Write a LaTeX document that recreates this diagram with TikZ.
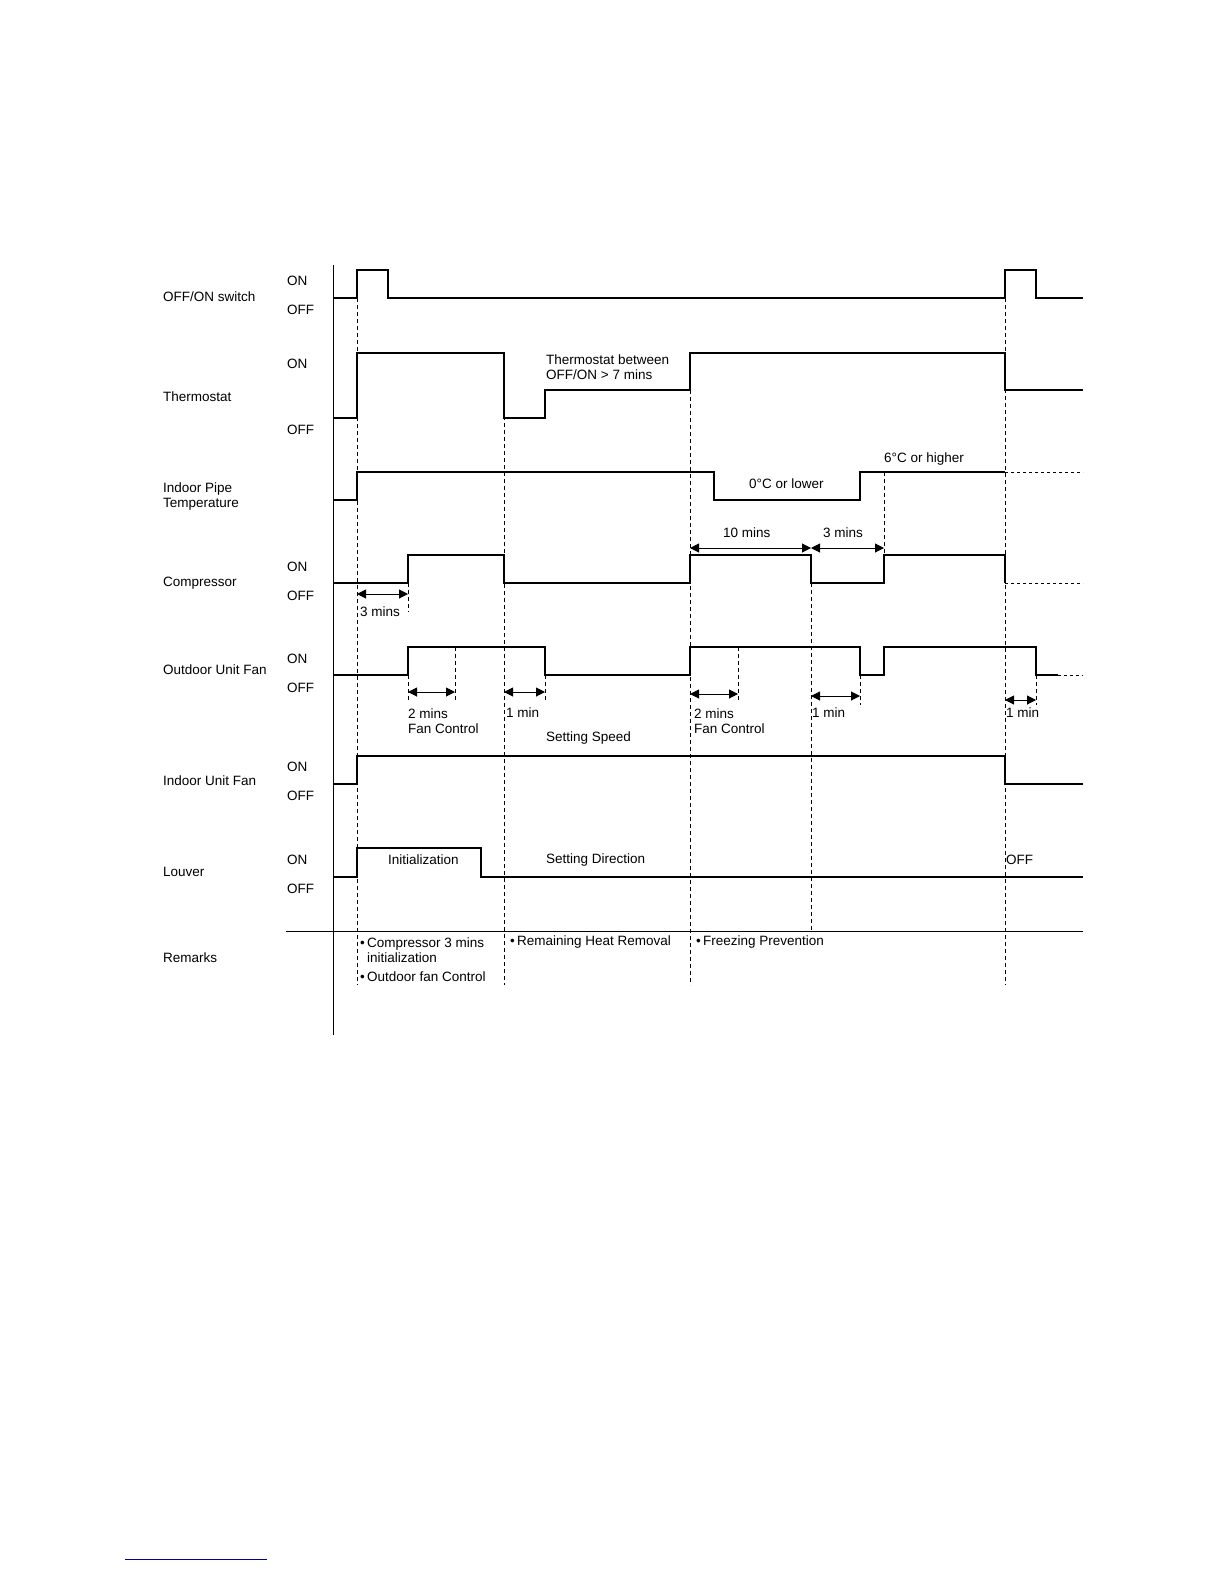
\documentclass[tikz,border=0pt]{standalone}
\usepackage{fontspec}
\setmainfont{Liberation Sans}
\usetikzlibrary{arrows.meta}
\begin{document}
\begin{tikzpicture}[x=1pt,y=-1pt,font=\fontsize{13.5}{15}\selectfont,
  sig/.style={line width=2.2pt,line join=miter},
  guide/.style={dashed,line width=0.6pt,dash pattern=on 4pt off 3pt},
  cont/.style={line width=0.8pt,dash pattern=on 3pt off 3pt},
  dur/.style={line width=1pt,{Triangle[length=9pt,width=9pt]}-{Triangle[length=9pt,width=9pt]}},
  lbl/.style={anchor=west,inner sep=0pt},
  txt/.style={anchor=base west,inner sep=0pt}]
\useasboundingbox (0,0) rectangle (1224,1584);
\fill[white] (0,0) rectangle (1224,1584);
% axis and remarks line
\draw[line width=0.8pt] (333,265) -- (333,1035);
\draw[line width=0.8pt] (286,931) -- (1083,931);
% guides
\draw[guide] (357,270) -- (357,985);
\draw[guide] (504,353) -- (504,985);
\draw[guide] (690,390) -- (690,985);
\draw[guide] (811,583) -- (811,931);
\draw[guide] (1005,298) -- (1005,985);
\draw[guide] (884,472) -- (884,555);
\draw[guide] (408,583) -- (408,612);
\draw[guide] (408,675) -- (408,700);
\draw[guide] (455,647) -- (455,700);
\draw[guide] (545,675) -- (545,700);
\draw[guide] (738,647) -- (738,700);
\draw[guide] (860,675) -- (860,705);
\draw[guide] (1036,675) -- (1036,705);
% signals
\draw[sig] (333,298) -- (357,298) -- (357,270) -- (388,270) -- (388,298) -- (1005,298) -- (1005,270) -- (1036,270) -- (1036,298) -- (1083,298);
\draw[sig] (333,418) -- (357,418) -- (357,353) -- (504,353) -- (504,418) -- (545,418) -- (545,390) -- (690,390) -- (690,353) -- (1005,353) -- (1005,390) -- (1083,390);
\draw[sig] (333,500) -- (357,500) -- (357,472) -- (714,472) -- (714,500) -- (860,500) -- (860,472) -- (1005,472);
\draw[cont] (1005,472) -- (1083,472);
\draw[sig] (333,583) -- (408,583) -- (408,555) -- (504,555) -- (504,583) -- (690,583) -- (690,555) -- (811,555) -- (811,583) -- (884,583) -- (884,555) -- (1005,555) -- (1005,583);
\draw[cont] (1005,583) -- (1083,583);
\draw[sig] (333,675) -- (408,675) -- (408,647) -- (545,647) -- (545,675) -- (690,675) -- (690,647) -- (860,647) -- (860,675) -- (884,675) -- (884,647) -- (1036,647) -- (1036,675) -- (1058,675);
\draw[cont] (1058,675) -- (1083,675);
\draw[sig] (333,784) -- (357,784) -- (357,756) -- (1005,756) -- (1005,784) -- (1083,784);
\draw[sig] (333,877) -- (357,877) -- (357,848) -- (481,848) -- (481,877) -- (1083,877);
% duration arrows
\draw[dur] (357,594) -- (408,594);
\draw[dur] (690,548) -- (811,548);
\draw[dur] (811,548) -- (884,548);
\draw[dur] (408,692) -- (455,692);
\draw[dur] (504,692) -- (545,692);
\draw[dur] (690,694) -- (738,694);
\draw[dur] (811,696) -- (860,696);
\draw[dur] (1005,700) -- (1036,700);
% row labels
\node[lbl] (l1) at (163,297) {OFF/ON switch};
\node[lbl] (l2) at (163,397) {Thermostat};
\node[lbl,align=left] (l3) at (163,497) {Indoor Pipe\\Temperature};
\node[lbl] (l4) at (163,583) {Compressor};
\node[lbl] (l5) at (163,670) {Outdoor Unit Fan};
\node[lbl] (l6) at (163,781) {Indoor Unit Fan};
\node[lbl] (l7) at (163,872) {Louver};
\node[lbl] (l8) at (163,958) {Remarks};
% ON/OFF
\foreach \n/\a/\b in {a/281/310, b/364/430, c/567/596, d/659/688, e/767/796, f/860/889}{
  \node[lbl] (on\n) at (287,\a) {ON};
  \node[lbl] (off\n) at (287,\b) {OFF};
}
% annotations
\node[lbl,align=left] (t1) at (546,367) {Thermostat between\\OFF/ON > 7 mins};
\node[lbl] (t2) at (749,484) {0°C or lower};
\node[lbl] (t3) at (884,459) {6°C or higher};
\node[lbl] (t4) at (723,533) {10 mins};
\node[lbl] (t5) at (823,533) {3 mins};
\node[lbl] (t6) at (360,612) {3 mins};
\node[lbl,align=left] (t7) at (408,721) {2 mins\\Fan Control};
\node[lbl] (t8) at (506,713) {1 min};
\node[lbl] (t9) at (546,738) {Setting Speed};
\node[lbl,align=left] (t10) at (694,721) {2 mins\\Fan Control};
\node[lbl] (t11) at (812,713) {1 min};
\node[lbl] (t12) at (1006,713) {1 min};
\node[lbl] (t13) at (388,860) {Initialization};
\node[lbl] (t14) at (546,860) {Setting Direction};
\node[lbl] (t15) at (1006,860) {OFF};
\node[lbl,align=left] (r1) at (360,950) {\textbullet\,Compressor 3 mins\\\phantom{\textbullet\,}initialization};
\node[lbl] (r2) at (360,977) {\textbullet\,Outdoor fan Control};
\node[lbl] (r3) at (510,942) {\textbullet\,Remaining Heat Removal};
\node[lbl] (r4) at (696,942) {\textbullet\,Freezing Prevention};
\draw[line width=0.8pt,blue!60!black] (125,1559) -- (267,1559);
\end{tikzpicture}
\end{document}
